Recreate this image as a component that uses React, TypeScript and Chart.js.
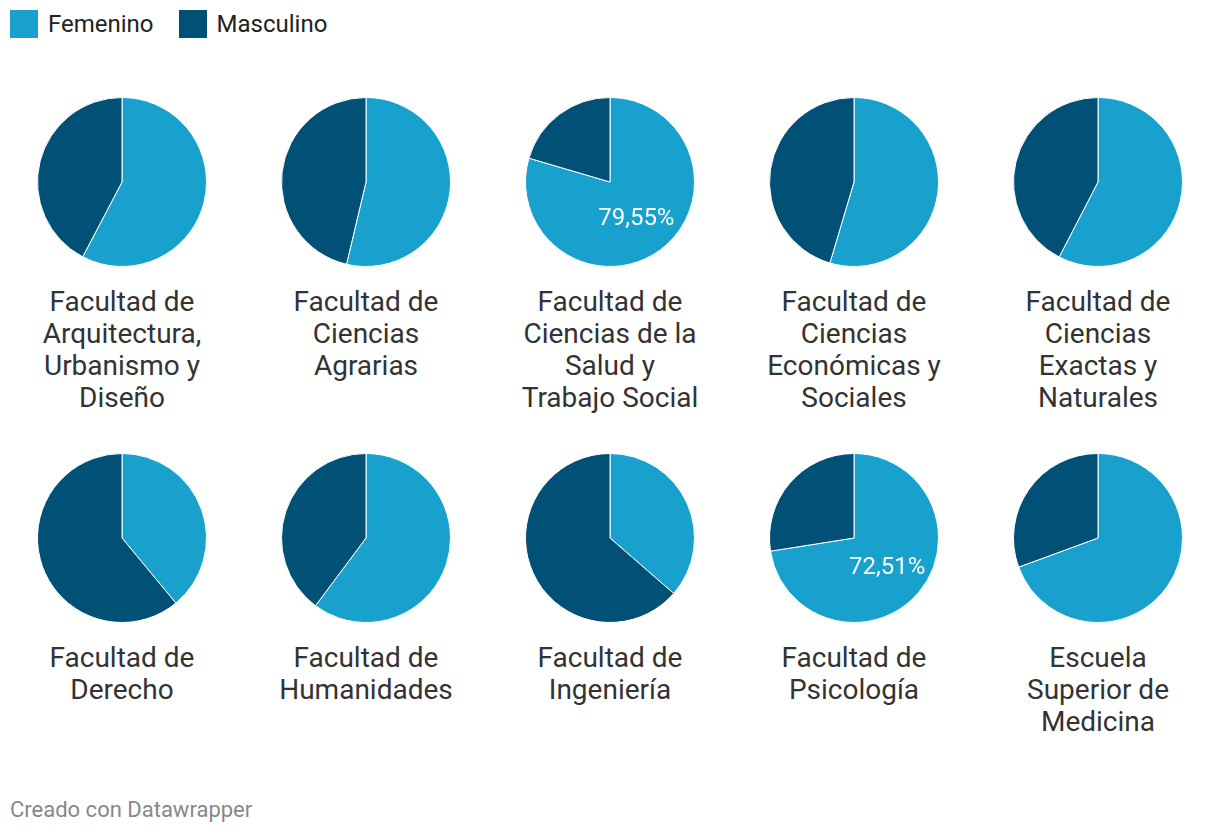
import React, { useEffect, useRef } from "react";
import { Chart, registerables } from "chart.js";

Chart.register(...registerables);

const series = ["Femenino", "Masculino"];
const colors = ["#18a1cd", "#015176"];

const categories = [
  ["Facultad de", "Arquitectura,", "Urbanismo y", "Diseño"],
  ["Facultad de", "Ciencias", "Agrarias"],
  ["Facultad de", "Ciencias de la", "Salud y", "Trabajo Social"],
  ["Facultad de", "Ciencias", "Económicas y", "Sociales"],
  ["Facultad de", "Ciencias", "Exactas y", "Naturales"],
  ["Facultad de", "Derecho"],
  ["Facultad de", "Humanidades"],
  ["Facultad de", "Ingeniería"],
  ["Facultad de", "Psicología"],
  ["Escuela", "Superior de", "Medicina"],
];

const femenino = [57.7, 53.7, 79.55, 54.6, 57.6, 39.0, 60.2, 36.4, 72.51, 69.4];
const masculino = [42.3, 46.3, 20.45, 45.4, 42.4, 61.0, 39.8, 63.6, 27.49, 30.6];
// which pies show a value label on the Femenino slice
const labelled = [false, false, true, false, false, false, false, false, true, false];

const FONT = "Roboto, 'Noto Sans', sans-serif";

const valueLabelPlugin = {
  id: "valueLabel",
  afterDatasetsDraw(chart: any) {
    const opts = chart.options.plugins.valueLabel;
    if (!opts || !opts.show) return;
    const meta = chart.getDatasetMeta(0);
    const arc = meta.data[0];
    if (!arc) return;
    const p = arc.getCenterPoint();
    const v = chart.data.datasets[0].data[0];
    const ctx = chart.ctx;
    ctx.save();
    ctx.fillStyle = "#ffffff";
    ctx.font = `24px ${FONT}`;
    ctx.textAlign = "center";
    ctx.textBaseline = "middle";
    ctx.fillText(v.toFixed(2).replace(".", ",") + "%", p.x + 1, p.y + 3);
    ctx.restore();
  },
};

function Pie({ index }: { index: number }) {
  const ref = useRef<HTMLCanvasElement | null>(null);
  useEffect(() => {
    if (!ref.current) return;
    const chart = new Chart(ref.current, {
      type: "pie",
      data: {
        labels: series,
        datasets: [
          {
            data: [femenino[index], masculino[index]],
            backgroundColor: colors,
            borderColor: "#ffffff",
            borderWidth: 1,
          },
        ],
      },
      options: {
        responsive: false,
        animation: false,
        layout: { padding: 0 },
        plugins: {
          legend: { display: false },
          tooltip: { enabled: false },
          valueLabel: { show: labelled[index] },
        } as any,
      },
      plugins: [valueLabelPlugin],
    });
    return () => chart.destroy();
  }, [index]);

  const col = index % 5;
  const row = Math.floor(index / 5);
  const cx = 122 + col * 244;
  const cy = 182 + row * 356;
  return (
    <>
      <canvas
        ref={ref}
        width={170}
        height={170}
        style={{ position: "absolute", left: cx - 85, top: cy - 85, width: 170, height: 170 }}
      />
      <div
        style={{
          position: "absolute",
          left: cx - 122,
          top: cy + 104,
          width: 244,
          textAlign: "center",
          fontFamily: FONT,
          fontSize: 28,
          lineHeight: "32px",
          color: "#333333",
        }}
      >
        {categories[index].map((l, i) => (
          <div key={i}>{l}</div>
        ))}
      </div>
    </>
  );
}

export default function App() {
  return (
    <div
      style={{
        position: "absolute",
        left: 0,
        top: 0,
        width: 1220,
        height: 834,
        background: "#ffffff",
        fontFamily: FONT,
        overflow: "hidden",
      }}
    >
      <div style={{ position: "absolute", left: 10, top: 10, display: "flex", alignItems: "center" }}>
        {series.map((s, i) => (
          <div key={s} style={{ display: "flex", alignItems: "center", marginRight: 25 }}>
            <div style={{ width: 28, height: 28, background: colors[i], marginRight: 10 }} />
            <span style={{ fontSize: 24, color: "#222222" }}>{s}</span>
          </div>
        ))}
      </div>
      {femenino.map((_, i) => (
        <Pie key={i} index={i} />
      ))}
      <div
        style={{
          position: "absolute",
          left: 10,
          top: 796,
          fontSize: 22,
          lineHeight: "28px",
          color: "#888888",
        }}
      >
        Creado con Datawrapper
      </div>
    </div>
  );
}
